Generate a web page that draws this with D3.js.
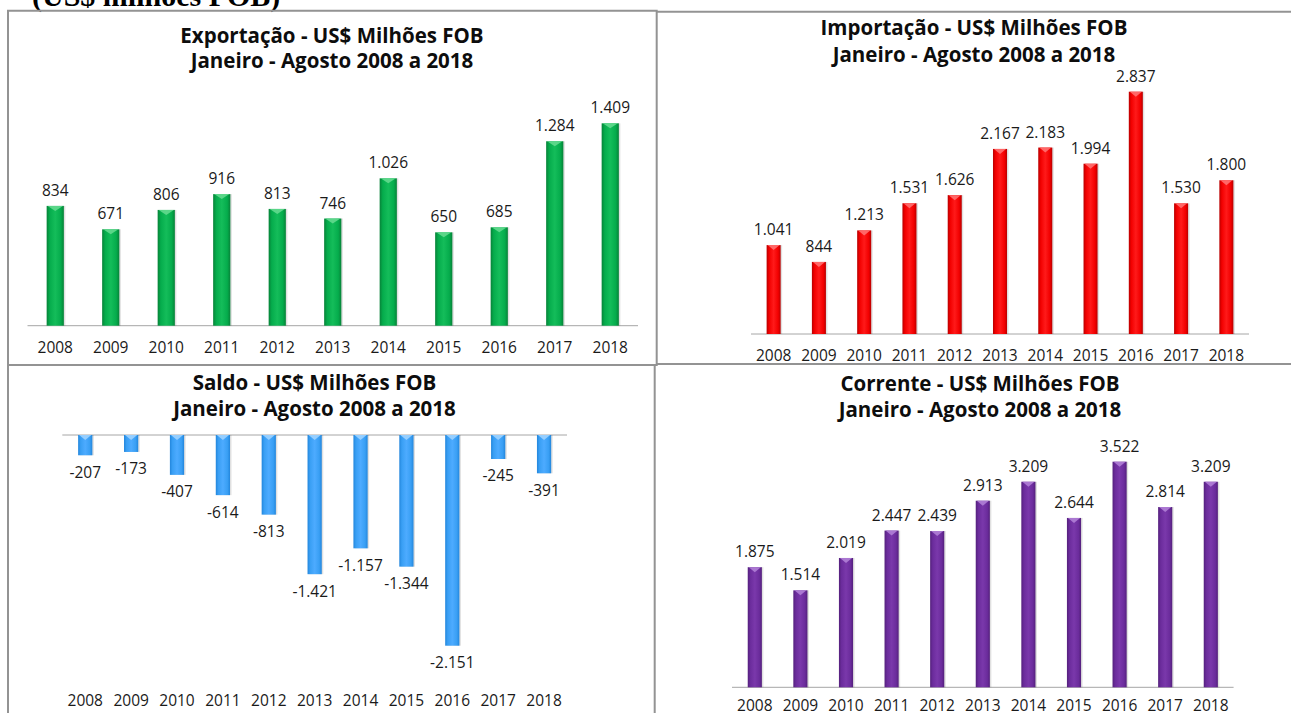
<!DOCTYPE html>
<html>
<head>
<meta charset="utf-8">
<script src="https://cdn.jsdelivr.net/npm/d3@7"></script>
<style>
  body { margin: 0; background: #fff; }
  svg { display: block; }
</style>
</head>
<body>
<script>
var width = 1291,
    height = 713;

var years = ["2008", "2009", "2010", "2011", "2012", "2013", "2014", "2015", "2016", "2017", "2018"];
var exportacao = [834, 671, 806, 916, 813, 746, 1026, 650, 685, 1284, 1409];
var importacao = [1041, 844, 1213, 1531, 1626, 2167, 2183, 1994, 2837, 1530, 1800];
var saldo = [-207, -173, -407, -614, -813, -1421, -1157, -1344, -2151, -245, -391];
var corrente = [1875, 1514, 2019, 2447, 2439, 2913, 3209, 2644, 3522, 2814, 3209];

var subtitle = "Janeiro - Agosto 2008 a 2018";

var br = d3.formatLocale({decimal: ",", thousands: ".", grouping: [3], currency: ["US$", ""], minus: "-"});
var fmt = br.format(",d");

var svg = d3.select("body")
            .append("svg")
            .attr("width", width)
            .attr("height", height);

var defs = svg.append("defs");

// cylinder-like shading for each bar colour
function gradient(id, dark, base, light) {
  var g = defs.append("linearGradient")
              .attr("id", id)
              .attr("x1", "0%").attr("x2", "100%")
              .attr("y1", "0%").attr("y2", "0%");
  [[0, dark], [0.18, base], [0.5, light], [0.82, base], [1, dark]].forEach(function(s) {
    g.append("stop").attr("offset", s[0]).attr("stop-color", s[1]);
  });
}
gradient("gGreen", "#078238", "#05ac4c", "#14bd5a");
gradient("gRed", "#b80000", "#f20000", "#ff1a1a");
gradient("gBlue", "#2386dc", "#399ff4", "#4dabff");
gradient("gPurple", "#54207c", "#6b2c9c", "#7a38ab");

// header text cut by the top of the page
svg.append("text")
   .attr("x", 32)
   .attr("y", 6)
   .attr("font-family", "Liberation Serif")
   .attr("font-weight", "bold")
   .attr("font-size", "30px")
   .attr("fill", "#000")
   .text("(US$ milhões FOB)");

// panel borders
var border = svg.append("g")
                .attr("stroke", "#939393")
                .attr("stroke-width", 2)
                .attr("fill", "none");
border.append("path").attr("d", "M8,713 V10.7 H656.7 V365 H8");
border.append("path").attr("d", "M656.7,11.7 H1291");
border.append("path").attr("d", "M656.7,364 H1291");
border.append("path").attr("d", "M654.7,365 V713");

var panels = [
  {title: "Exportação - US$ Milhões FOB", values: exportacao, fill: "gGreen", cap: "#63d98e",
   cx: 332, t1: 43, t2: 68, x0: 27.5, x1: 638, base: 325.7, end: 123.3, yearY: 352.5},
  {title: "Importação - US$ Milhões FOB", values: importacao, fill: "gRed", cap: "#ff7070",
   cx: 974, t1: 35, t2: 62, x0: 751, x1: 1249, base: 334, end: 91.7, yearY: 360.5},
  {title: "Saldo - US$ Milhões FOB", values: saldo, fill: "gBlue", cap: "#9fd3ff",
   cx: 314.5, t1: 390, t2: 415.7, x0: 62.3, x1: 567, base: 435, end: 645.7, yearY: 705.5},
  {title: "Corrente - US$ Milhões FOB", values: corrente, fill: "gPurple", cap: "#b07fd6",
   cx: 980, t1: 390.7, t2: 416.7, x0: 732, x1: 1233.6, base: 687.3, end: 461.7, yearY: 711}
];

panels.forEach(function(p) {
  var g = svg.append("g");
  var extreme = p.values[d3.maxIndex(p.values, function(d) { return Math.abs(d); })];

  var xScale = d3.scaleBand()
                 .domain(years)
                 .range([p.x0, p.x1])
                 .paddingInner(0.69)
                 .paddingOuter(0.345);

  var yScale = d3.scaleLinear()
                 .domain([0, extreme])
                 .range([p.base, p.end]);

  var bw = xScale.bandwidth();

  [[p.title, p.t1], [subtitle, p.t2]].forEach(function(t) {
    g.append("text")
     .attr("x", p.cx)
     .attr("y", t[1])
     .attr("text-anchor", "middle")
     .attr("font-family", "Open Sans")
     .attr("font-weight", "bold")
     .attr("font-size", "20.5px")
     .attr("fill", "#0d0d0d")
     .text(t[0]);
  });

  // baseline
  g.append("line")
   .attr("x1", p.x0).attr("x2", p.x1)
   .attr("y1", p.base).attr("y2", p.base)
   .attr("stroke", "#a6a6a6")
   .attr("stroke-width", 1);

  var bars = g.selectAll(".bar")
              .data(p.values)
              .enter()
              .append("g")
              .attr("class", "bar");

  // soft shadow on the right side
  bars.append("rect")
      .attr("x", function(d, i) { return xScale(years[i]) + 1.5; })
      .attr("y", function(d) { return Math.min(yScale(d), yScale(0)); })
      .attr("width", bw)
      .attr("height", function(d) { return Math.abs(yScale(d) - yScale(0)); })
      .attr("fill", "#000")
      .attr("opacity", 0.12);

  bars.append("rect")
      .attr("x", function(d, i) { return xScale(years[i]); })
      .attr("y", function(d) { return Math.min(yScale(d), yScale(0)); })
      .attr("width", bw)
      .attr("height", function(d) { return Math.abs(yScale(d) - yScale(0)); })
      .attr("fill", "url(#" + p.fill + ")");

  // lighter chevron at the top of each bar
  bars.append("path")
      .attr("d", function(d, i) {
        var x = xScale(years[i]);
        var top = d >= 0 ? yScale(d) : yScale(0);
        return "M" + (x + 1) + "," + top + " H" + (x + bw - 1) + " L" + (x + bw / 2) + "," + (top + 5) + " Z";
      })
      .attr("fill", p.cap)
      .attr("opacity", 0.9);

  // value labels
  g.selectAll(".val")
   .data(p.values)
   .enter()
   .append("text")
   .attr("class", "val")
   .attr("x", function(d, i) { return xScale(years[i]) + bw / 2; })
   .attr("y", function(d) { return d >= 0 ? yScale(d) - 10 : yScale(d) + 22.5; })
   .attr("text-anchor", "middle")
   .attr("font-family", "Open Sans")
   .attr("font-size", "15.5px")
   .attr("fill", "#1a1a1a")
   .text(function(d) { return fmt(d); });

  // category labels
  var xAxis = d3.axisBottom(xScale).tickSize(0).tickPadding(0);
  var ax = g.append("g")
            .attr("transform", "translate(0," + p.yearY + ")")
            .call(xAxis);
  ax.select(".domain").remove();
  ax.selectAll("text")
    .attr("dy", 0)
    .attr("y", 0)
    .attr("font-family", "Open Sans")
    .attr("font-size", "15.5px")
    .attr("fill", "#1a1a1a");
});
</script>
</body>
</html>
